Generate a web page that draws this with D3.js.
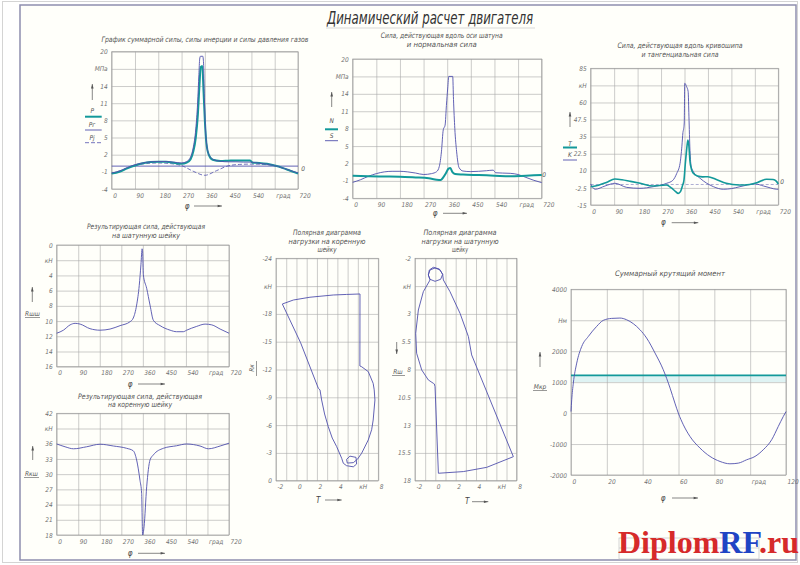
<!DOCTYPE html>
<html>
<head>
<meta charset="utf-8">
<script src="https://cdn.jsdelivr.net/npm/d3@7"></script>
<style>
  body { margin: 0; background: #fff; }
  svg text { font-family: "DejaVu Sans Condensed", "Liberation Sans Narrow", "DejaVu Sans", sans-serif; font-style: italic; fill: #707070; }
</style>
</head>
<body>
<div id="chart"></div>
<script>
const W = 800, H = 565;
const NAVY = "#5050ad", TEAL = "#13999a", GRID = "#aaaaaa";

// ---- tick labels ----
const phiTicks = [0, 90, 180, 270, 360, 450, 540, 630, 720];
const phiLabels = ["0", "90", "180", "270", "360", "450", "540", "град", "720"];
const mpaTicks = [-4, -1, 2, 5, 8, 11, 14, 17, 20];
const mpaLabels = ["-4", "-1", "2", "5", "8", "11", "14", "МПа", "20"];
const knTicks3 = [-15, -2.5, 10, 22.5, 35, 47.5, 60, 72.5, 85];
const knLabels3 = ["-15", "-2.5", "10", "22.5", "35", "47.5", "60", "кН", "85"];
const pinTicks = [0, 2, 4, 6, 8, 10, 12, 14, 16];
const pinLabels = ["0", "кН", "4", "6", "8", "10", "12", "14", "16"];
const mainTicks = [18, 21, 24, 27, 30, 33, 36, 39, 42];
const mainLabels = ["18", "21", "24", "27", "30", "33", "36", "кН", "42"];
const polarXTicks = [-2, -1, 0, 1, 2, 3, 4, 5, 6, 7, 8];
const polarXLabels = ["-2", "", "0", "", "2", "", "4", "", "кН", "", "8"];
const polar6YTicks = [-24, -21, -18, -15, -12, -9, -6, -3, 0];
const polar6YLabels = ["-24", "кН", "-18", "-15", "-12", "-9", "-6", "-3", "0"];
const polar7YTicks = [-2, 0.5, 3, 5.5, 8, 10.5, 13, 15.5, 18];
const polar7YLabels = ["-2", "кН", "3", "5.5", "8", "10.5", "13", "15.5", "18"];
const torqueXTicks = [0, 20, 40, 60, 80, 100, 120];
const torqueXLabels = ["0", "20", "40", "60", "80", "град", "120"];
const torqueYTicks = [-2000, -1000, 0, 1000, 2000, 3000, 4000];
const torqueYLabels = ["-2000", "-1000", "0", "1000", "2000", "Нм", "4000"];

// ---- chart 1: total, gas and inertia forces [phi, MPa] ----
const forceTotal = [[0,-1.3],[30,-1.0],[60,-0.4],[90,0.1],[120,0.5],[150,0.7],[180,0.75],[210,0.75],[240,0.6],[270,0.4],[290,0.6],[305,1.2],[315,2.5],[325,5],[333,9],[339,14],[344,17.3],[350,17.5],[355,13],[360,8],[366,4],[375,2],[390,1.1],[420,0.9],[450,0.95],[480,1.0],[510,1.0],[535,1.0],[545,0.6],[570,0.55],[600,0.4],[630,0.1],[660,-0.3],[690,-0.8],[720,-1.3]];
const forceGas = [[0,-1.2],[30,-0.85],[60,-0.25],[90,0.25],[120,0.55],[150,0.75],[180,0.8],[210,0.8],[240,0.7],[270,0.55],[290,0.8],[305,1.6],[315,3.2],[325,6.5],[332,11],[337,16],[340,18.7],[343,19.2],[352,19.2],[355,18],[358,12],[362,7],[368,3.5],[378,1.8],[395,1.1],[420,0.85],[450,0.75],[480,0.75],[510,0.7],[540,0.7],[570,0.5],[600,0.35],[630,0.1],[660,-0.3],[690,-0.75],[720,-1.2]];
const forceInertia = [[0,-1.3],[45,-0.6],[90,0.1],[135,0.45],[180,0.55],[225,0.45],[270,0.1],[315,-0.9],[360,-1.6],[405,-0.8],[450,0.05],[495,0.3],[540,0.35],[585,0.3],[630,0.05],[675,-0.6],[720,-1.3]];

// ---- chart 2: rod force S and normal force N ----
const rodForce = [[0,-1.25],[30,-0.8],[60,-0.2],[90,0.25],[120,0.55],[150,0.65],[180,0.65],[210,0.55],[240,0.35],[270,0.1],[300,0.25],[320,0.6],[330,1.5],[338,4],[345,7.8],[352,8.6],[357,12],[362,15],[366,17],[381,17],[384,13],[389,8],[396,4],[405,1.3],[420,0.7],[450,0.6],[480,0.65],[510,0.75],[535,0.85],[545,0.4],[570,0.35],[600,0.3],[630,0.1],[660,-0.4],[690,-0.9],[720,-1.3]];
const normalForce = [[0,-0.1],[60,-0.2],[120,-0.25],[180,-0.3],[240,-0.4],[290,-0.55],[320,-0.8],[335,-0.85],[345,-0.4],[355,0.3],[365,1.1],[372,1.2],[380,0.5],[390,0.2],[420,0.1],[480,0.0],[540,-0.1],[600,-0.2],[660,-0.1],[720,0.0]];

// ---- chart 3: tangential T and crank force K [phi, kN] ----
const tangForce = [[0,-1.6],[30,-0.5],[60,1.5],[93,4],[120,3.5],[150,2.4],[190,0.9],[240,-1.1],[290,-0.4],[310,-2.5],[325,-5],[336,-6.5],[345,-5],[352,-1],[358,3.3],[363,15],[368,25],[373,32.5],[377,28],[381,17],[387,11],[394,8.2],[410,6.2],[430,5.6],[450,5.7],[480,3.8],[520,0.9],[570,-0.4],[610,0],[640,1.5],[675,3.8],[700,3.6],[712,2.5],[720,0.4]];
const crankForce = [[0,0.4],[17,-3.5],[55,-1.1],[93,0.9],[138,-2.1],[189,-2.8],[240,-1.6],[292,0.9],[315,3],[330,8],[343,15.5],[350,28],[354,38],[357,41],[359,45],[361,74],[368,71.6],[374,68],[377,50],[381,25],[386,13],[394,9.4],[420,4.5],[471,-1.6],[509,-3.5],[540,-3],[573,-1.6],[631,0.4],[663,-1.1],[690,-2.5],[714,-3.5],[720,-3.5]];

// ---- chart 4 / 5: resultant forces on journals ----
const pinForce = [[0,11.6],[28,11.2],[56,10.5],[77,10.3],[98,10.4],[139,11.0],[181,11.2],[223,11.05],[265,10.6],[306,10.1],[320,9.6],[334,7.9],[345,5.3],[352,2.6],[357,0.5],[359,0.9],[362,3.9],[376,5.7],[390,7.9],[404,9.9],[432,10.6],[474,11.2],[501,11.4],[529,11.4],[543,11.2],[585,10.7],[620,10.4],[648,10.5],[683,11.05],[720,11.6]];
const mainForce = [[0,35.95],[35,35.4],[70,35.0],[125,35.4],[181,35.9],[237,35.55],[292,35.1],[320,34.6],[334,32.8],[348,28.8],[355,26.2],[359,18],[365,19.6],[376,27.5],[390,32.8],[404,33.8],[446,35.1],[501,35.6],[543,35.95],[599,35.55],[634,35.0],[683,35.55],[720,36.1]];

// ---- chart 6 / 7: polar load diagrams [T, R] ----
const polarMain = [[6.21,-20.15],[4.9,-20.1],[3.6,-20.04],[1.32,-19.8],[-0.3,-19.5],[-1.38,-19.07],[0.4,-14.9],[2.14,-9.97],[2.3,-9.8],[2.46,-8.71],[2.75,-7.2],[3.11,-5.83],[3.5,-4.6],[3.93,-3.68],[4.42,-2.42],[4.58,-1.88],[4.9,-1.62],[5.56,-1.5],[5.88,-1.8],[5.82,-2.52],[5.23,-2.65],[4.9,-2.3],[4.97,-1.9],[5.56,-1.95],[5.95,-2.3],[6.37,-2.96],[7.02,-4.4],[7.35,-5.5],[7.5,-6.55],[7.67,-8.71],[7.6,-9.8],[7.5,-10.5],[7.02,-11.77],[6.37,-12.3],[6.2,-12.38],[6.21,-20.15]];
const polarPin = [[-0.52,-0.05],[-1.18,1.0],[-1.67,2.65],[-1.93,4.74],[-1.84,6.54],[-1.34,8.04],[-0.69,8.94],[-0.2,9.24],[-0.1,9.3],[-0.03,9.54],[0.3,17.33],[2.75,17.18],[5.05,16.8],[7.67,15.84],[3.57,6.69],[3.25,5.04],[2.43,2.95],[1.44,1.0],[0.79,-0.05],[0.72,-0.56],[0.46,-0.95],[-0.03,-1.13],[-0.52,-0.95],[-0.69,-0.5],[-0.52,-0.11],[-0.03,0.07],[0.52,-0.11],[0.72,-0.56],[0.39,-1.04],[-0.2,-1.19],[-0.59,-0.95],[-0.69,-0.5],[-0.52,-0.05]];

// ---- chart 8: total torque [deg, N*m] ----
const torque = [[0,50],[0.4,430],[1.3,970],[3.2,1616],[6,2155],[9.7,2478],[14.3,2800],[18,2996],[22.7,3060],[27.3,3071],[31,3017],[34.8,2888],[38.5,2694],[42.2,2425],[46.9,1940],[51.5,1400],[55.3,808],[58,323],[59.9,0],[62.7,-377],[66.4,-754],[72,-1131],[77.6,-1400],[83.2,-1563],[88.7,-1638],[93.4,-1616],[98,-1509],[102.7,-1400],[107.3,-1185],[112,-862],[115.7,-431],[118.5,-108],[120,50]];
const meanTorque = 1218;

const svg = d3.select("#chart").append("svg")
  .attr("width", W).attr("height", H);

// sheet frame
svg.append("rect").attr("x", 0).attr("y", 0).attr("width", W).attr("height", H).attr("fill", "#fff");
svg.append("rect").attr("x", 2.5).attr("y", 1.5).attr("width", 795).attr("height", 561)
  .attr("fill", "none").attr("stroke", "#d4d4d4");
svg.append("rect").attr("x", 20).attr("y", 5).attr("width", 776).attr("height", 555)
  .attr("fill", "#fffffa").attr("stroke", "#8e8eae").attr("stroke-width", 1.5);

// main title
svg.append("text").attr("x", 430).attr("y", 24).attr("text-anchor", "middle")
  .attr("font-size", 17).attr("textLength", 206).attr("lengthAdjust", "spacingAndGlyphs")
  .style("fill", "#333").text("Динамический расчет двигателя");
svg.append("line").attr("x1", 326).attr("x2", 535).attr("y1", 28).attr("y2", 28)
  .attr("stroke", "#c8c8c8").attr("stroke-width", 0.7);

function panel(box, xDom, yDom, xTicks, xLabels, yTicks, yLabels) {
  const x = d3.scaleLinear().domain(xDom).range([box.left, box.right]);
  const y = d3.scaleLinear().domain(yDom).range([box.bottom, box.top]);
  const g = svg.append("g");

  g.append("g").attr("transform", "translate(0," + box.bottom + ")")
    .call(d3.axisBottom(x).tickValues(xTicks).tickSize(-(box.bottom - box.top))
      .tickPadding(4).tickFormat((d, i) => xLabels[i]))
    .attr("font-size", 6.5)
    .call(a => a.select(".domain").remove())
    .call(a => a.selectAll("line").attr("stroke", GRID).attr("stroke-width", 0.6))
    .call(a => a.selectAll("text").attr("text-anchor", "start").attr("dx", 1));

  g.append("g").attr("transform", "translate(" + box.left + ",0)")
    .call(d3.axisLeft(y).tickValues(yTicks).tickSize(-(box.right - box.left))
      .tickPadding(4).tickFormat((d, i) => yLabels[i]))
    .attr("font-size", 6.5)
    .call(a => a.select(".domain").remove())
    .call(a => a.selectAll("line").attr("stroke", GRID).attr("stroke-width", 0.6));

  g.append("rect").attr("x", box.left).attr("y", box.top)
    .attr("width", box.right - box.left).attr("height", box.bottom - box.top)
    .attr("fill", "none").attr("stroke", "#999").attr("stroke-width", 0.7);
  return {x: x, y: y, g: g};
}

function curve(p, data, color, width, smooth, dash) {
  const line = d3.line().x(d => p.x(d[0])).y(d => p.y(d[1]))
    .curve(smooth ? d3.curveMonotoneX : d3.curveLinear);
  p.g.append("path").datum(data)
    .attr("fill", "none").attr("stroke", color).attr("stroke-width", width)
    .attr("stroke-linejoin", "round")
    .attr("stroke-dasharray", dash || null)
    .attr("d", line);
}

function title(lines, cx, y0, lengths) {
  lines.forEach((t, i) => {
    svg.append("text").attr("x", cx).attr("y", y0 + i * 8.5).attr("text-anchor", "middle")
      .attr("font-size", 7.5).attr("textLength", lengths[i]).attr("lengthAdjust", "spacingAndGlyphs")
      .style("fill", "#555").text(t);
  });
}

function arrowHead(x, y, dir) {
  const s = 2.2;
  let pts;
  if (dir === "up") pts = [[x, y], [x - s * 0.6, y + s * 2], [x + s * 0.6, y + s * 2]];
  else if (dir === "down") pts = [[x, y], [x - s * 0.6, y - s * 2], [x + s * 0.6, y - s * 2]];
  else pts = [[x, y], [x - s * 2, y - s * 0.6], [x - s * 2, y + s * 0.6]];
  svg.append("path").attr("d", "M" + pts.join("L") + "Z").attr("fill", "#555");
}

function vArrow(x, yFrom, yTo) {
  svg.append("line").attr("x1", x).attr("x2", x).attr("y1", yFrom).attr("y2", yTo)
    .attr("stroke", "#555").attr("stroke-width", 0.7);
  arrowHead(x, yTo, yTo < yFrom ? "up" : "down");
}

function phiArrow(label, x, y, x1, x2) {
  svg.append("text").attr("x", x).attr("y", y + 2.5).attr("text-anchor", "middle")
    .attr("font-size", 8).style("fill", "#444").text(label);
  svg.append("line").attr("x1", x1).attr("x2", x2).attr("y1", y).attr("y2", y)
    .attr("stroke", "#555").attr("stroke-width", 0.7);
  arrowHead(x2, y, "right");
}

function label(t, x, y, size) {
  return svg.append("text").attr("x", x).attr("y", y).attr("text-anchor", "middle")
    .attr("font-size", size || 6.5).style("fill", "#555").text(t);
}

function legendLine(x1, x2, y, color, width, dash) {
  svg.append("line").attr("x1", x1).attr("x2", x2).attr("y1", y).attr("y2", y)
    .attr("stroke", color).attr("stroke-width", width).attr("stroke-dasharray", dash || null);
}

// ---------- chart 1 ----------
const p1 = panel({left: 111.7, right: 298, top: 51.7, bottom: 189}, [0, 720], [-4, 20],
  phiTicks, phiLabels, mpaTicks, mpaLabels);
p1.g.append("line").attr("x1", p1.x(0)).attr("x2", p1.x(720)).attr("y1", p1.y(0)).attr("y2", p1.y(0))
  .attr("stroke", NAVY).attr("stroke-width", 0.9);
curve(p1, forceInertia, NAVY, 0.8, true, "4,2");
curve(p1, forceTotal, TEAL, 2, true);
curve(p1, forceGas, NAVY, 0.9, true);
title(["График суммарной силы, силы инерции и силы давления газов"], 205, 41.5, [207]);
label("0", 303, 170.5);
vArrow(92.3, 100, 84);
label("P", 92.3, 113); legendLine(85, 101.7, 116.7, TEAL, 2);
label("Pг", 92, 127); legendLine(85, 101.7, 130, NAVY, 0.9);
label("Pj", 92, 139.5); legendLine(85, 101.7, 142.7, NAVY, 0.8, "4,2");
phiArrow("φ", 187, 206, 194, 222);

// ---------- chart 2 ----------
const p2 = panel({left: 352.7, right: 541.7, top: 59, bottom: 198.3}, [0, 720], [-4, 20],
  phiTicks, phiLabels, mpaTicks, mpaLabels);
curve(p2, rodForce, NAVY, 0.9, true);
curve(p2, normalForce, TEAL, 2, true);
title(["Сила, действующая вдоль оси шатуна", "и нормальная сила"], 441.7, 38, [122, 70]);
label("0", 544, 177);
vArrow(331.7, 107, 92);
label("N", 331.7, 123); legendLine(325, 338, 129.3, TEAL, 2);
label("S", 331.7, 137.5); legendLine(325, 338, 140.7, NAVY, 0.9);
phiArrow("φ", 435, 213.3, 443, 467);

// ---------- chart 3 ----------
const p3 = panel({left: 590.7, right: 778.3, top: 68.3, bottom: 205}, [0, 720], [-15, 85],
  phiTicks, phiLabels, knTicks3, knLabels3);
p3.g.append("line").attr("x1", p3.x(0)).attr("x2", p3.x(720)).attr("y1", p3.y(0)).attr("y2", p3.y(0))
  .attr("stroke", "#8a8ac0").attr("stroke-width", 0.7).attr("stroke-dasharray", "3,2");
curve(p3, crankForce, NAVY, 0.9, true);
curve(p3, tangForce, TEAL, 1.6, true);
title(["Сила, действующая вдоль кривошипа", "и тангенциальная сила"], 680, 48, [125, 77]);
label("0", 782, 184);
vArrow(570, 127, 112);
label("T", 570, 145.5); legendLine(563, 577, 147.5, TEAL, 2);
label("K", 570, 157); legendLine(563, 577, 160, NAVY, 0.9);
phiArrow("φ", 663.3, 222.7, 671.7, 698.3);

// ---------- chart 4 ----------
const p4 = panel({left: 56.7, right: 229, top: 245, bottom: 366.7}, [0, 720], [16, 0],
  phiTicks, phiLabels, pinTicks, pinLabels);
curve(p4, pinForce, NAVY, 0.9, true);
title(["Результирующая сила, действующая", "на шатунную шейку"], 146, 229, [118, 68]);
vArrow(32.3, 302, 287);
label("Rшш", 32.5, 315.5); legendLine(25, 40, 317.5, "#555", 0.6);
phiArrow("φ", 130, 384, 138, 165);

// ---------- chart 5 ----------
const p5 = panel({left: 56.7, right: 229, top: 413.3, bottom: 535}, [0, 720], [18, 42],
  phiTicks, phiLabels, mainTicks, mainLabels);
curve(p5, mainForce, NAVY, 0.9, true);
title(["Результирующая сила, действующая", "на коренную шейку"], 140, 398.5, [124, 64]);
vArrow(32.7, 460, 446);
label("Rкш", 31.5, 475.5); legendLine(24, 39, 477.5, "#555", 0.6);
phiArrow("φ", 130, 553.3, 138, 165);

// ---------- chart 6 ----------
const p6 = panel({left: 276, right: 378.3, top: 258.3, bottom: 480.7}, [-2, 8], [0, -24],
  polarXTicks, polarXLabels, polar6YTicks, polar6YLabels);
curve(p6, polarMain, NAVY, 0.9, false);
title(["Полярная диаграмма", "нагрузки на коренную", "шейку"], 327, 235, [68, 77, 19]);
svg.append("text").attr("transform", "translate(254,368) rotate(-90)").attr("text-anchor", "middle")
  .attr("font-size", 6.5).style("fill", "#555").text("Rк");
legendLine(256.5, 256.5, 360, "#555", 0.6);
svg.select("line:last-of-type");
svg.append("line").attr("x1", 256.5).attr("x2", 256.5).attr("y1", 361).attr("y2", 376)
  .attr("stroke", "#555").attr("stroke-width", 0.6);
phiArrow("T", 318.3, 500, 325, 341.7);

// ---------- chart 7 ----------
const p7 = panel({left: 415, right: 516.7, top: 258.3, bottom: 480.7}, [-2, 8], [18, -2],
  polarXTicks, polarXLabels, polar7YTicks, polar7YLabels);
curve(p7, polarPin, NAVY, 0.9, false);
title(["Полярная диаграмма", "нагрузки на шатунную", "шейку"], 460, 235, [73, 77, 16]);
vArrow(396.7, 342, 354);
label("Rш", 398, 373.5); legendLine(392, 405, 375.5, "#555", 0.6);
phiArrow("T", 467.3, 501.7, 472, 488.3);

// ---------- chart 8 ----------
const p8 = panel({left: 571, right: 786, top: 289.3, bottom: 475}, [0, 120], [-2000, 4000],
  torqueXTicks, torqueXLabels, torqueYTicks, torqueYLabels);
p8.g.insert("rect", ":first-child")
  .attr("x", p8.x(0)).attr("y", p8.y(meanTorque))
  .attr("width", p8.x(120) - p8.x(0)).attr("height", p8.y(1000) - p8.y(meanTorque))
  .attr("fill", "#dff3f3");
p8.g.append("line").attr("x1", p8.x(0)).attr("x2", p8.x(120))
  .attr("y1", p8.y(meanTorque)).attr("y2", p8.y(meanTorque))
  .attr("stroke", TEAL).attr("stroke-width", 1.8);
curve(p8, torque, NAVY, 0.9, true);
title(["Суммарный крутящий момент"], 670, 276, [110]);
vArrow(540, 367, 352);
label("Мкр", 540, 388.5); legendLine(533, 547, 390.5, "#555", 0.6);
phiArrow("φ", 663, 498, 672, 698);

// ---------- stamp + watermark ----------
svg.append("rect").attr("x", 619).attr("y", 538).attr("width", 140).attr("height", 21)
  .attr("fill", "none").attr("stroke", "#c4c4c4").attr("stroke-width", 0.7);
svg.append("line").attr("x1", 619).attr("x2", 759).attr("y1", 548).attr("y2", 548)
  .attr("stroke", "#c4c4c4").attr("stroke-width", 0.7);
const wm = svg.append("text").attr("x", 618).attr("y", 553)
  .attr("font-size", 32).attr("font-weight", "bold")
  .style("font-family", "'Liberation Serif', 'DejaVu Serif', serif").style("font-style", "normal");
wm.append("tspan").style("fill", "#d62a2a").text("Diplom");
wm.append("tspan").style("fill", "#1f44c4").text("RF");
wm.append("tspan").style("fill", "#d62a2a").text(".ru");
</script>
</body>
</html>
